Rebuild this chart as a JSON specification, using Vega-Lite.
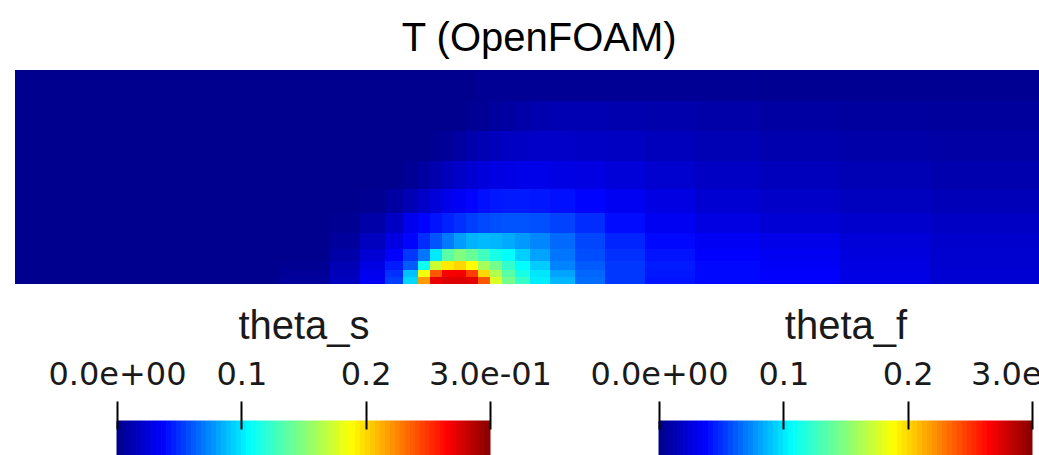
{
  "$schema": "https://vega.github.io/schema/vega-lite/v6.json",
  "padding": {"left": 15, "top": 19, "right": 0, "bottom": 0},
  "background": "white",
  "title": {"text": "T (OpenFOAM)", "fontSize": 40, "font": "Liberation Sans", "fontWeight": "normal", "baseline": "alphabetic", "offset": 16, "dx": -15, "dy": 37, "anchor": "middle", "color": "black"},
  "config": {"view": {"stroke": null}},
  "bounds": "flush",
  "spacing": 137,
  "datasets": {
    "cols": [
      {"c":1,"x0":0,"x1":165},{"c":2,"x0":165,"x1":265},{"c":3,"x0":265,"x1":315},{"c":4,"x0":315,"x1":345},{"c":5,"x0":345,"x1":370},
      {"c":6,"x0":370,"x1":388},{"c":7,"x0":388,"x1":403},{"c":8,"x0":403,"x1":415},{"c":9,"x0":415,"x1":427},{"c":10,"x0":427,"x1":439},
      {"c":11,"x0":439,"x1":451},{"c":12,"x0":451,"x1":463},{"c":13,"x0":463,"x1":475},{"c":14,"x0":475,"x1":487},{"c":15,"x0":487,"x1":500},
      {"c":16,"x0":500,"x1":515},{"c":17,"x0":515,"x1":535},{"c":18,"x0":535,"x1":560},{"c":19,"x0":560,"x1":590},{"c":20,"x0":590,"x1":630},
      {"c":21,"x0":630,"x1":680},{"c":22,"x0":680,"x1":745},{"c":23,"x0":745,"x1":825},{"c":24,"x0":825,"x1":915},{"c":25,"x0":915,"x1":1024}
    ],
    "rows": [
      {"r":1,"y0":183,"y1":214},{"r":2,"y0":153,"y1":183},{"r":3,"y0":123,"y1":153},{"r":4,"y0":95,"y1":123},{"r":5,"y0":71,"y1":95},
      {"r":6,"y0":51,"y1":71},{"r":7,"y0":35,"y1":51},{"r":8,"y0":23,"y1":35},{"r":9,"y0":14,"y1":23},{"r":10,"y0":7,"y1":14},{"r":11,"y0":0,"y1":7}
    ],
    "cells": [
      {"r":1,"c":1,"t":0},{"r":1,"c":2,"t":0},{"r":1,"c":3,"t":0},{"r":1,"c":4,"t":0},{"r":1,"c":5,"t":0},{"r":1,"c":6,"t":0},{"r":1,"c":7,"t":0},{"r":1,"c":8,"t":0},{"r":1,"c":9,"t":0},{"r":1,"c":10,"t":0},{"r":1,"c":11,"t":0},{"r":1,"c":12,"t":0},{"r":1,"c":13,"t":0.002},{"r":1,"c":14,"t":0.002},{"r":1,"c":15,"t":0.002},{"r":1,"c":16,"t":0.002},{"r":1,"c":17,"t":0.002},{"r":1,"c":18,"t":0.002},{"r":1,"c":19,"t":0.002},{"r":1,"c":20,"t":0.002},{"r":1,"c":21,"t":0.002},{"r":1,"c":22,"t":0.002},{"r":1,"c":23,"t":0.001},{"r":1,"c":24,"t":0.001},{"r":1,"c":25,"t":0.001},
      {"r":2,"c":1,"t":0},{"r":2,"c":2,"t":0},{"r":2,"c":3,"t":0},{"r":2,"c":4,"t":0},{"r":2,"c":5,"t":0},{"r":2,"c":6,"t":0},{"r":2,"c":7,"t":0},{"r":2,"c":8,"t":0},{"r":2,"c":9,"t":0},{"r":2,"c":10,"t":0},{"r":2,"c":11,"t":0},{"r":2,"c":12,"t":0.001},{"r":2,"c":13,"t":0.002},{"r":2,"c":14,"t":0.004},{"r":2,"c":15,"t":0.006},{"r":2,"c":16,"t":0.008},{"r":2,"c":17,"t":0.01},{"r":2,"c":18,"t":0.011},{"r":2,"c":19,"t":0.011},{"r":2,"c":20,"t":0.01},{"r":2,"c":21,"t":0.009},{"r":2,"c":22,"t":0.008},{"r":2,"c":23,"t":0.006},{"r":2,"c":24,"t":0.005},{"r":2,"c":25,"t":0.004},
      {"r":3,"c":1,"t":0},{"r":3,"c":2,"t":0},{"r":3,"c":3,"t":0},{"r":3,"c":4,"t":0},{"r":3,"c":5,"t":0},{"r":3,"c":6,"t":0},{"r":3,"c":7,"t":0},{"r":3,"c":8,"t":0},{"r":3,"c":9,"t":0.001},{"r":3,"c":10,"t":0.003},{"r":3,"c":11,"t":0.006},{"r":3,"c":12,"t":0.009},{"r":3,"c":13,"t":0.012},{"r":3,"c":14,"t":0.014},{"r":3,"c":15,"t":0.016},{"r":3,"c":16,"t":0.017},{"r":3,"c":17,"t":0.018},{"r":3,"c":18,"t":0.018},{"r":3,"c":19,"t":0.017},{"r":3,"c":20,"t":0.016},{"r":3,"c":21,"t":0.014},{"r":3,"c":22,"t":0.012},{"r":3,"c":23,"t":0.01},{"r":3,"c":24,"t":0.008},{"r":3,"c":25,"t":0.007},
      {"r":4,"c":1,"t":0},{"r":4,"c":2,"t":0},{"r":4,"c":3,"t":0},{"r":4,"c":4,"t":0},{"r":4,"c":5,"t":0},{"r":4,"c":6,"t":0},{"r":4,"c":7,"t":0.002},{"r":4,"c":8,"t":0.006},{"r":4,"c":9,"t":0.01},{"r":4,"c":10,"t":0.014},{"r":4,"c":11,"t":0.018},{"r":4,"c":12,"t":0.021},{"r":4,"c":13,"t":0.024},{"r":4,"c":14,"t":0.026},{"r":4,"c":15,"t":0.027},{"r":4,"c":16,"t":0.028},{"r":4,"c":17,"t":0.028},{"r":4,"c":18,"t":0.027},{"r":4,"c":19,"t":0.026},{"r":4,"c":20,"t":0.023},{"r":4,"c":21,"t":0.02},{"r":4,"c":22,"t":0.017},{"r":4,"c":23,"t":0.014},{"r":4,"c":24,"t":0.012},{"r":4,"c":25,"t":0.01},
      {"r":5,"c":1,"t":0},{"r":5,"c":2,"t":0},{"r":5,"c":3,"t":0},{"r":5,"c":4,"t":0},{"r":5,"c":5,"t":0.001},{"r":5,"c":6,"t":0.006},{"r":5,"c":7,"t":0.012},{"r":5,"c":8,"t":0.018},{"r":5,"c":9,"t":0.023},{"r":5,"c":10,"t":0.028},{"r":5,"c":11,"t":0.032},{"r":5,"c":12,"t":0.036},{"r":5,"c":13,"t":0.039},{"r":5,"c":14,"t":0.041},{"r":5,"c":15,"t":0.042},{"r":5,"c":16,"t":0.042},{"r":5,"c":17,"t":0.041},{"r":5,"c":18,"t":0.039},{"r":5,"c":19,"t":0.036},{"r":5,"c":20,"t":0.031},{"r":5,"c":21,"t":0.026},{"r":5,"c":22,"t":0.021},{"r":5,"c":23,"t":0.018},{"r":5,"c":24,"t":0.015},{"r":5,"c":25,"t":0.013},
      {"r":6,"c":1,"t":0},{"r":6,"c":2,"t":0},{"r":6,"c":3,"t":0},{"r":6,"c":4,"t":0.001},{"r":6,"c":5,"t":0.008},{"r":6,"c":6,"t":0.017},{"r":6,"c":7,"t":0.03},{"r":6,"c":8,"t":0.036},{"r":6,"c":9,"t":0.04},{"r":6,"c":10,"t":0.044},{"r":6,"c":11,"t":0.048},{"r":6,"c":12,"t":0.052},{"r":6,"c":13,"t":0.055},{"r":6,"c":14,"t":0.057},{"r":6,"c":15,"t":0.058},{"r":6,"c":16,"t":0.058},{"r":6,"c":17,"t":0.057},{"r":6,"c":18,"t":0.053},{"r":6,"c":19,"t":0.047},{"r":6,"c":20,"t":0.038},{"r":6,"c":21,"t":0.031},{"r":6,"c":22,"t":0.026},{"r":6,"c":23,"t":0.022},{"r":6,"c":24,"t":0.019},{"r":6,"c":25,"t":0.017},
      {"r":7,"c":1,"t":0},{"r":7,"c":2,"t":0},{"r":7,"c":3,"t":0},{"r":7,"c":4,"t":0.004},{"r":7,"c":5,"t":0.015},{"r":7,"c":6,"t":0.026},{"r":7,"c":7,"t":0.036},{"r":7,"c":8,"t":0.047},{"r":7,"c":9,"t":0.058},{"r":7,"c":10,"t":0.068},{"r":7,"c":11,"t":0.078},{"r":7,"c":12,"t":0.084},{"r":7,"c":13,"t":0.086},{"r":7,"c":14,"t":0.085},{"r":7,"c":15,"t":0.082},{"r":7,"c":16,"t":0.077},{"r":7,"c":17,"t":0.072},{"r":7,"c":18,"t":0.064},{"r":7,"c":19,"t":0.054},{"r":7,"c":20,"t":0.045},{"r":7,"c":21,"t":0.037},{"r":7,"c":22,"t":0.032},{"r":7,"c":23,"t":0.028},{"r":7,"c":24,"t":0.023},{"r":7,"c":25,"t":0.019},
      {"r":8,"c":1,"t":0},{"r":8,"c":2,"t":0},{"r":8,"c":3,"t":0},{"r":8,"c":4,"t":0.008},{"r":8,"c":5,"t":0.022},{"r":8,"c":6,"t":0.034},{"r":8,"c":7,"t":0.05},{"r":8,"c":8,"t":0.067},{"r":8,"c":9,"t":0.099},{"r":8,"c":10,"t":0.134},{"r":8,"c":11,"t":0.147},{"r":8,"c":12,"t":0.139},{"r":8,"c":13,"t":0.126},{"r":8,"c":14,"t":0.113},{"r":8,"c":15,"t":0.105},{"r":8,"c":16,"t":0.092},{"r":8,"c":17,"t":0.08},{"r":8,"c":18,"t":0.067},{"r":8,"c":19,"t":0.056},{"r":8,"c":20,"t":0.048},{"r":8,"c":21,"t":0.04},{"r":8,"c":22,"t":0.035},{"r":8,"c":23,"t":0.031},{"r":8,"c":24,"t":0.025},{"r":8,"c":25,"t":0.02},
      {"r":9,"c":1,"t":0},{"r":9,"c":2,"t":0},{"r":9,"c":3,"t":0.001},{"r":9,"c":4,"t":0.012},{"r":9,"c":5,"t":0.027},{"r":9,"c":6,"t":0.042},{"r":9,"c":7,"t":0.06},{"r":9,"c":8,"t":0.109},{"r":9,"c":9,"t":0.171},{"r":9,"c":10,"t":0.193},{"r":9,"c":11,"t":0.199},{"r":9,"c":12,"t":0.187},{"r":9,"c":13,"t":0.159},{"r":9,"c":14,"t":0.143},{"r":9,"c":15,"t":0.122},{"r":9,"c":16,"t":0.105},{"r":9,"c":17,"t":0.091},{"r":9,"c":18,"t":0.071},{"r":9,"c":19,"t":0.06},{"r":9,"c":20,"t":0.05},{"r":9,"c":21,"t":0.042},{"r":9,"c":22,"t":0.037},{"r":9,"c":23,"t":0.033},{"r":9,"c":24,"t":0.026},{"r":9,"c":25,"t":0.02},
      {"r":10,"c":1,"t":0},{"r":10,"c":2,"t":0},{"r":10,"c":3,"t":0.003},{"r":10,"c":4,"t":0.014},{"r":10,"c":5,"t":0.03},{"r":10,"c":6,"t":0.048},{"r":10,"c":7,"t":0.088},{"r":10,"c":8,"t":0.183},{"r":10,"c":9,"t":0.238},{"r":10,"c":10,"t":0.266},{"r":10,"c":11,"t":0.267},{"r":10,"c":12,"t":0.246},{"r":10,"c":13,"t":0.199},{"r":10,"c":14,"t":0.163},{"r":10,"c":15,"t":0.134},{"r":10,"c":16,"t":0.113},{"r":10,"c":17,"t":0.098},{"r":10,"c":18,"t":0.08},{"r":10,"c":19,"t":0.063},{"r":10,"c":20,"t":0.05},{"r":10,"c":21,"t":0.041},{"r":10,"c":22,"t":0.037},{"r":10,"c":23,"t":0.034},{"r":10,"c":24,"t":0.027},{"r":10,"c":25,"t":0.021},
      {"r":11,"c":1,"t":0},{"r":11,"c":2,"t":0},{"r":11,"c":3,"t":0.004},{"r":11,"c":4,"t":0.015},{"r":11,"c":5,"t":0.032},{"r":11,"c":6,"t":0.052},{"r":11,"c":7,"t":0.094},{"r":11,"c":8,"t":0.217},{"r":11,"c":9,"t":0.27},{"r":11,"c":10,"t":0.274},{"r":11,"c":11,"t":0.274},{"r":11,"c":12,"t":0.272},{"r":11,"c":13,"t":0.238},{"r":11,"c":14,"t":0.175},{"r":11,"c":15,"t":0.143},{"r":11,"c":16,"t":0.123},{"r":11,"c":17,"t":0.1},{"r":11,"c":18,"t":0.085},{"r":11,"c":19,"t":0.065},{"r":11,"c":20,"t":0.05},{"r":11,"c":21,"t":0.04},{"r":11,"c":22,"t":0.037},{"r":11,"c":23,"t":0.034},{"r":11,"c":24,"t":0.027},{"r":11,"c":25,"t":0.021}
    ],
    "bar": [
      {"lo":0,"hi":0.004},{"lo":0.004,"hi":0.008},{"lo":0.008,"hi":0.012},{"lo":0.012,"hi":0.016},{"lo":0.016,"hi":0.02},
      {"lo":0.02,"hi":0.024},{"lo":0.024,"hi":0.028},{"lo":0.028,"hi":0.032},{"lo":0.032,"hi":0.036},{"lo":0.036,"hi":0.04},
      {"lo":0.04,"hi":0.044},{"lo":0.044,"hi":0.048},{"lo":0.048,"hi":0.052},{"lo":0.052,"hi":0.056},{"lo":0.056,"hi":0.06},
      {"lo":0.06,"hi":0.064},{"lo":0.064,"hi":0.068},{"lo":0.068,"hi":0.072},{"lo":0.072,"hi":0.076},{"lo":0.076,"hi":0.08},
      {"lo":0.08,"hi":0.084},{"lo":0.084,"hi":0.088},{"lo":0.088,"hi":0.092},{"lo":0.092,"hi":0.096},{"lo":0.096,"hi":0.1},
      {"lo":0.1,"hi":0.104},{"lo":0.104,"hi":0.108},{"lo":0.108,"hi":0.112},{"lo":0.112,"hi":0.116},{"lo":0.116,"hi":0.12},
      {"lo":0.12,"hi":0.124},{"lo":0.124,"hi":0.128},{"lo":0.128,"hi":0.132},{"lo":0.132,"hi":0.136},{"lo":0.136,"hi":0.14},
      {"lo":0.14,"hi":0.144},{"lo":0.144,"hi":0.148},{"lo":0.148,"hi":0.152},{"lo":0.152,"hi":0.156},{"lo":0.156,"hi":0.16},
      {"lo":0.16,"hi":0.164},{"lo":0.164,"hi":0.168},{"lo":0.168,"hi":0.172},{"lo":0.172,"hi":0.176},{"lo":0.176,"hi":0.18},
      {"lo":0.18,"hi":0.184},{"lo":0.184,"hi":0.188},{"lo":0.188,"hi":0.192},{"lo":0.192,"hi":0.196},{"lo":0.196,"hi":0.2},
      {"lo":0.2,"hi":0.204},{"lo":0.204,"hi":0.208},{"lo":0.208,"hi":0.212},{"lo":0.212,"hi":0.216},{"lo":0.216,"hi":0.22},
      {"lo":0.22,"hi":0.224},{"lo":0.224,"hi":0.228},{"lo":0.228,"hi":0.232},{"lo":0.232,"hi":0.236},{"lo":0.236,"hi":0.24},
      {"lo":0.24,"hi":0.244},{"lo":0.244,"hi":0.248},{"lo":0.248,"hi":0.252},{"lo":0.252,"hi":0.256},{"lo":0.256,"hi":0.26},
      {"lo":0.26,"hi":0.264},{"lo":0.264,"hi":0.268},{"lo":0.268,"hi":0.272},{"lo":0.272,"hi":0.276},{"lo":0.276,"hi":0.28},
      {"lo":0.28,"hi":0.284},{"lo":0.284,"hi":0.288},{"lo":0.288,"hi":0.292},{"lo":0.292,"hi":0.296},{"lo":0.296,"hi":0.3}
    ]
  },
  "vconcat": [
    {
      "width": 1024,
      "height": 214,
      "data": {"name": "cells"},
      "transform": [
        {"lookup": "c", "from": {"data": {"name": "cols"}, "key": "c", "fields": ["x0", "x1"]}},
        {"lookup": "r", "from": {"data": {"name": "rows"}, "key": "r", "fields": ["y0", "y1"]}}
      ],
      "mark": {"type": "rect"},
      "encoding": {
        "x": {"field": "x0", "type": "quantitative", "scale": {"domain": [0, 1024], "nice": false, "zero": false}, "axis": null},
        "x2": {"field": "x1"},
        "y": {"field": "y0", "type": "quantitative", "scale": {"domain": [0, 214], "nice": false, "zero": false}, "axis": null},
        "y2": {"field": "y1"},
        "color": {"field": "t", "type": "quantitative", "legend": null,
          "scale": {"domain": [0, 0.035, 0.105, 0.147, 0.187, 0.264, 0.3], "range": ["#00008f", "#0000ff", "#00ffff", "#80ff80", "#ffff00", "#ff0000", "#800000"], "interpolate": "rgb", "clamp": true}}
      }
    },
    {
      "bounds": "flush",
      "spacing": 169,
      "hconcat": [
        {
          "width": 475,
          "height": 40,
          "data": {"name": "bar"},
          "mark": {"type": "rect", "strokeWidth": 1},
          "encoding": {
            "x": {"field": "lo", "type": "quantitative", "scale": {"domain": [-0.08204, 0.3], "nice": false, "zero": false},
              "axis": {"orient": "top", "values": [0, 0.1, 0.2, 0.3],
                "labelExpr": "datum.value == 0 ? '0.0e+00' : (datum.value == 0.3 ? '3.0e-01' : format(datum.value, '.1f'))",
                "domain": false, "grid": false, "ticks": true, "tickColor": "black", "tickWidth": 2, "tickSize": 28, "offset": -8, "zindex": 1,
                "labelFont": "DejaVu Sans", "labelFontSize": 32, "labelColor": "#1a1a1a", "labelPadding": 17, "labelBaseline": "alphabetic",
                "labelAlign": "center", "labelFlush": false, "labelOverlap": false, "labelBound": false,
                "title": "theta_s", "titleFont": "Liberation Sans", "titleFontSize": 40, "titleFontWeight": "normal", "titleColor": "#1a1a1a",
                "titleBaseline": "alphabetic", "titleAlign": "center", "titleX": 288.5, "titleY": -91}},
            "x2": {"field": "hi"},
            "color": {"field": "lo", "type": "quantitative", "legend": null,
              "scale": {"domain": [0, 0.035, 0.105, 0.147, 0.187, 0.264, 0.3], "range": ["#00008f", "#0000ff", "#00ffff", "#80ff80", "#ffff00", "#ff0000", "#800000"], "interpolate": "rgb", "clamp": true}},
            "stroke": {"field": "lo", "type": "quantitative", "legend": null,
              "scale": {"domain": [0, 0.035, 0.105, 0.147, 0.187, 0.264, 0.3], "range": ["#00008f", "#0000ff", "#00ffff", "#80ff80", "#ffff00", "#ff0000", "#800000"], "interpolate": "rgb", "clamp": true}}
          }
        },
        {
          "width": 373,
          "height": 40,
          "data": {"name": "bar"},
          "mark": {"type": "rect", "strokeWidth": 1},
          "encoding": {
            "x": {"field": "lo", "type": "quantitative", "scale": {"domain": [0, 0.3], "nice": false, "zero": false},
              "axis": {"orient": "top", "values": [0, 0.1, 0.2, 0.3],
                "labelExpr": "datum.value == 0 ? '0.0e+00' : (datum.value == 0.3 ? '3.0e-01' : format(datum.value, '.1f'))",
                "domain": false, "grid": false, "ticks": true, "tickColor": "black", "tickWidth": 2, "tickSize": 28, "offset": -8, "zindex": 1,
                "labelFont": "DejaVu Sans", "labelFontSize": 32, "labelColor": "#1a1a1a", "labelPadding": 17, "labelBaseline": "alphabetic",
                "labelAlign": "center", "labelFlush": false, "labelOverlap": false, "labelBound": false,
                "title": "theta_f", "titleFont": "Liberation Sans", "titleFontSize": 40, "titleFontWeight": "normal", "titleColor": "#1a1a1a",
                "titleBaseline": "alphabetic", "titleAlign": "center", "titleX": 186.5, "titleY": -91}},
            "x2": {"field": "hi"},
            "color": {"field": "lo", "type": "quantitative", "legend": null,
              "scale": {"domain": [0, 0.035, 0.105, 0.147, 0.187, 0.264, 0.3], "range": ["#00008f", "#0000ff", "#00ffff", "#80ff80", "#ffff00", "#ff0000", "#800000"], "interpolate": "rgb", "clamp": true}},
            "stroke": {"field": "lo", "type": "quantitative", "legend": null,
              "scale": {"domain": [0, 0.035, 0.105, 0.147, 0.187, 0.264, 0.3], "range": ["#00008f", "#0000ff", "#00ffff", "#80ff80", "#ffff00", "#ff0000", "#800000"], "interpolate": "rgb", "clamp": true}}
          }
        }
      ]
    }
  ]
}
